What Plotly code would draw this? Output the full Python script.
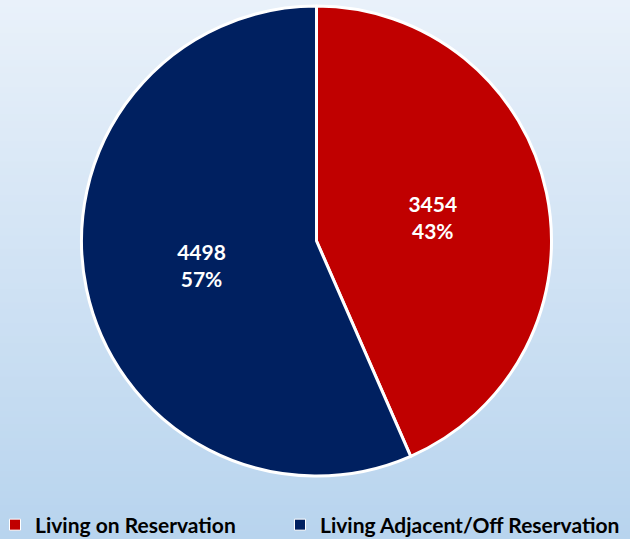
import plotly.graph_objects as go

labels = ["Living on Reservation", "Living Adjacent/Off Reservation"]
values = [3454, 4498]
colors = ["#C00000", "#002060"]

W, H = 630, 539

fig = go.Figure()
fig.add_trace(go.Pie(
    labels=labels,
    values=values,
    sort=False,
    direction="clockwise",
    rotation=0,
    marker=dict(colors=colors, line=dict(color="white", width=3)),
    textinfo="value+percent",
    texttemplate="%{value}<br>%{percent:.0%}",
    textposition="inside",
    insidetextorientation="horizontal",
    textfont=dict(color="white", size=21, family="Lato", weight="bold"),
    hoverinfo="label+value+percent",
    showlegend=False,
    domain=dict(x=[81/W, 552/W], y=[1 - 476/H, 1 - 6/H]),
))

# legend entries (one legend per entry, to place them like the reference)
legend_names = ["legend", "legend2"]
for lab, col, lg in zip(labels, colors, legend_names):
    fig.add_trace(go.Scatter(
        x=[None], y=[None], mode="markers", name=lab, legend=lg,
        marker=dict(symbol="square", size=11, color=col, line=dict(color="white", width=1)),
        showlegend=True, hoverinfo="skip",
    ))

# vertical background gradient
n = 80
top = (233, 241, 250)
bot = (184, 212, 238)
shapes = []
for i in range(n):
    t = i / (n - 1)
    c = tuple(round(top[k] + (bot[k] - top[k]) * t) for k in range(3))
    shapes.append(dict(type="rect", xref="paper", yref="paper", layer="below",
                       x0=0, x1=1, y0=1 - (i + 1) / n - 0.001, y1=1 - i / n + 0.001,
                       fillcolor="rgb(%d,%d,%d)" % c, line=dict(width=0)))

legend_font = dict(family="Lato", size=21, color="#000000", weight="bold")
ly = 1 - 525 / H
fig.update_layout(
    width=W, height=H,
    margin=dict(l=0, r=0, t=0, b=0, autoexpand=False),
    paper_bgcolor="rgb(210,227,244)",
    plot_bgcolor="rgba(0,0,0,0)",
    shapes=shapes,
    xaxis=dict(visible=False),
    yaxis=dict(visible=False),
    showlegend=True,
    legend=dict(orientation="h", x=-5 / W, xanchor="left", y=ly, yanchor="middle",
                font=legend_font, bgcolor="rgba(0,0,0,0)", itemwidth=30),
    legend2=dict(orientation="h", x=280 / W, xanchor="left", y=ly, yanchor="middle",
                 font=legend_font, bgcolor="rgba(0,0,0,0)", itemwidth=30),
)

fig.write_html("out.html", config={"displayModeBar": False},
               post_script="document.body.style.margin='0';document.body.style.padding='0';")
